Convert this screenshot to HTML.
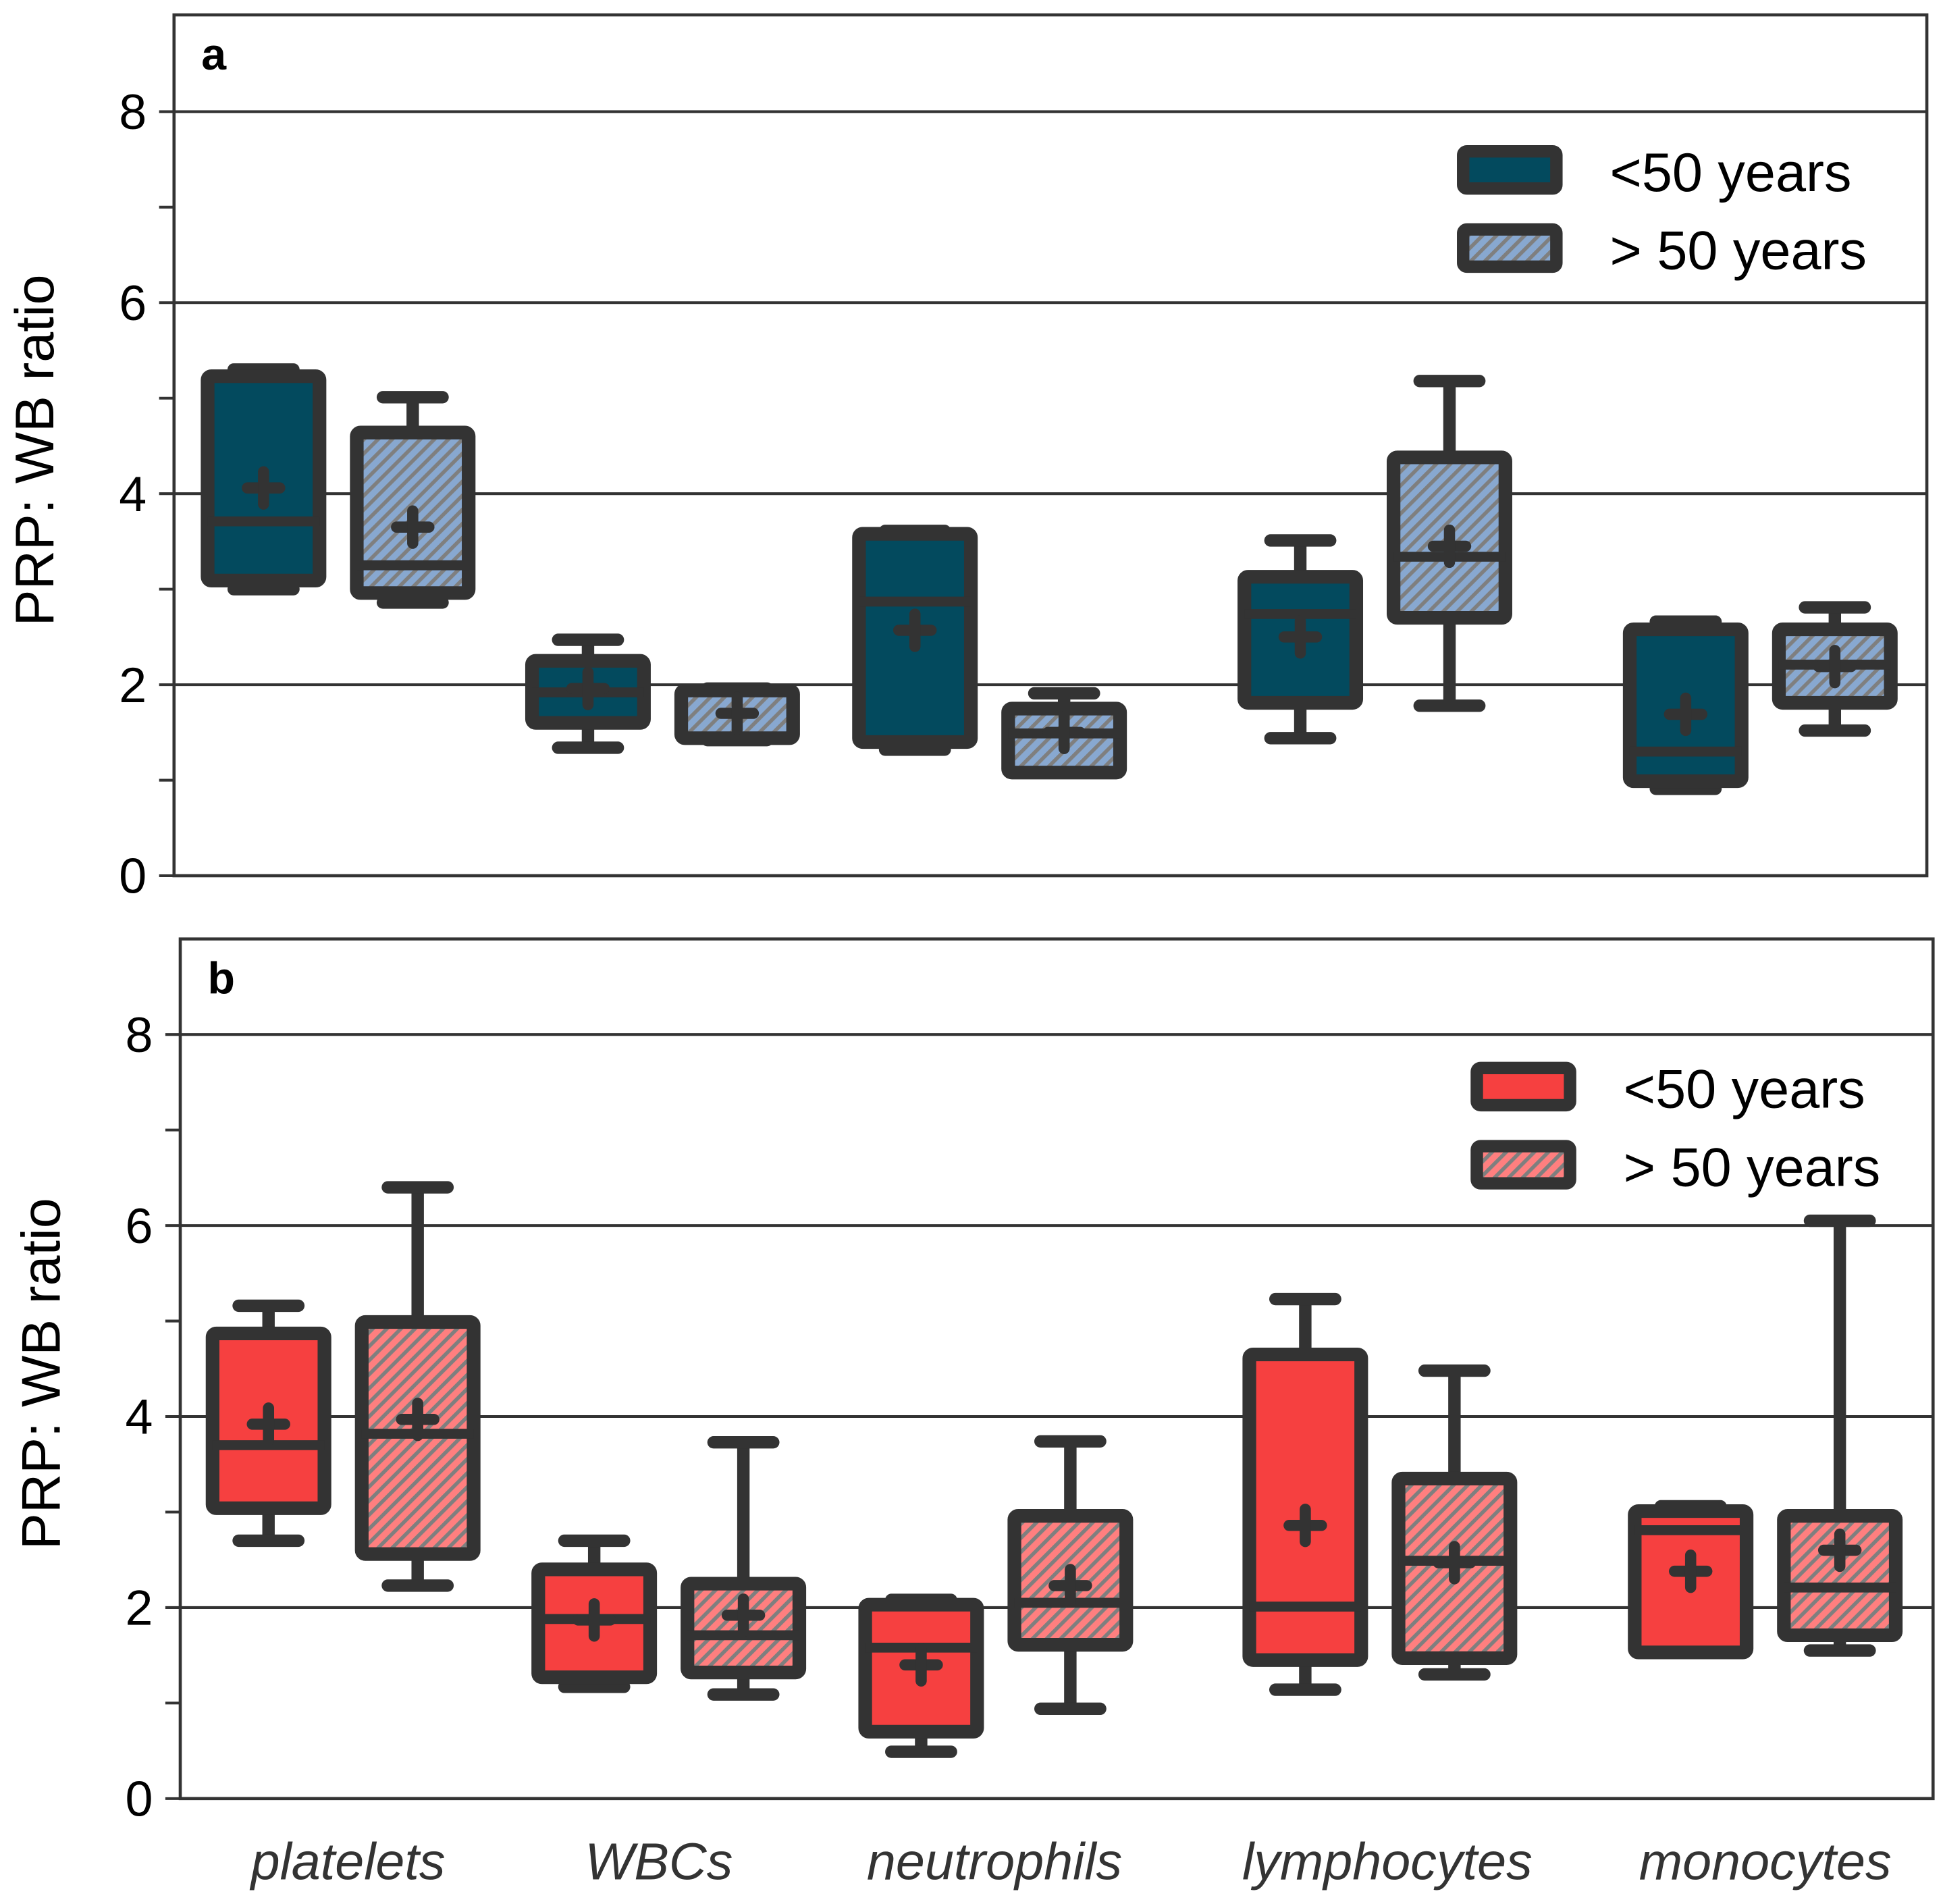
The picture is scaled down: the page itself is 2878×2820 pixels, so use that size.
<!DOCTYPE html>
<html><head><meta charset="utf-8"><style>html,body{margin:0;padding:0;background:#fff}svg{display:block}text{font-family:"Liberation Sans",Arial,sans-serif}</style></head>
<body>
<svg id="chart" width="2878" height="2820" viewBox="0 0 1563 1535" preserveAspectRatio="none" xmlns="http://www.w3.org/2000/svg">
<defs>
<pattern id="hatchBlue" patternUnits="userSpaceOnUse" width="8" height="8" patternTransform="rotate(45)">
<rect width="8" height="8" fill="#88a8d0"/><rect width="3" height="8" fill="#7f7f7f"/></pattern>
<pattern id="hatchPink" patternUnits="userSpaceOnUse" width="8" height="8" patternTransform="rotate(45)">
<rect width="8" height="8" fill="#ff7f7f"/><rect width="3" height="8" fill="#7f7f7f"/></pattern>
</defs>
<g id="root"></g>
</svg>
<script>
const categories = ["platelets","WBCs","neutrophils","lymphocytes","monocytes"];
// [whiskerHigh, q3, median, q1, whiskerLow, mean]
const aYoung = [[5.3,5.23,3.71,3.09,3.0,4.06],[2.47,2.25,1.92,1.6,1.34,1.96],[3.61,3.58,2.87,1.40,1.32,2.57],[3.51,3.13,2.74,1.81,1.44,2.5],[2.66,2.58,1.30,0.99,0.91,1.69]];
const aOld = [[5.01,4.64,3.25,2.96,2.86,3.65],[1.96,1.94,1.94,1.44,1.42,1.7],[1.91,1.75,1.49,1.08,1.08,1.5],[5.18,4.38,3.34,2.70,1.78,3.45],[2.81,2.58,2.21,1.81,1.52,2.19]];
const bYoung = [[5.16,4.87,3.70,3.04,2.70,3.92],[2.70,2.40,1.88,1.27,1.17,1.87],[2.08,2.03,1.58,0.70,0.49,1.40],[5.23,4.65,2.01,1.45,1.14,2.86],[3.06,3.01,2.81,1.53,1.53,2.38]];
const bOld = [[6.40,4.99,3.82,2.56,2.23,3.97],[3.73,2.25,1.71,1.32,1.09,1.92],[3.74,2.96,2.05,1.61,0.94,2.23],[4.48,3.35,2.49,1.47,1.30,2.47],[6.05,2.96,2.21,1.71,1.55,2.60]];
const yTicks = [0,2,4,6,8];
const yMinor = [1,3,5,7];

const NS="http://www.w3.org/2000/svg";
const root=document.getElementById('root');
function mk(tag,attrs,parent){const e=document.createElementNS(NS,tag);for(const k in attrs)e.setAttribute(k,attrs[k]);(parent||root).appendChild(e);return e;}
const C="#333";

function panel(p){
  const g=mk('g',{});
  
  
  const y=v=>p.y0-v*77;
  const grpCenter=i=>p.centers[i];
  yTicks.forEach(t=>{ if(t>0){const l=mk('line',{x1:p.left,x2:p.right,y1:y(t),y2:y(t),stroke:C,'stroke-width':2.2},g);
    
    }
    mk('line',{x1:p.left-12,x2:p.left,y1:y(t),y2:y(t),stroke:C,'stroke-width':2.2},g);
    const tx=mk('text',{x:p.left-22,y:y(t)+14,'text-anchor':'end','font-size':40,fill:'#000'},g);
    tx.textContent=t;
    
    
  });
  yMinor.forEach(t=>{mk('line',{x1:p.left-12,x2:p.left,y1:y(t),y2:y(t),stroke:C,'stroke-width':2.2},g);});
  const fr=mk('rect',{x:p.left,y:p.top,width:p.right-p.left,height:p.y0-p.top,fill:'none',stroke:C,'stroke-width':2.5},g);
  
  
  const lb=mk('text',{x:p.left+22,y:p.top+44,'font-size':36,'font-weight':'bold',fill:'#000'},g);
  lb.textContent=p.label;
  
  
  const yt=mk('text',{x:0,y:0,'font-size':44,fill:'#000','text-anchor':'middle',transform:`translate(${p.left-97},${(p.top+p.y0)/2+4}) rotate(-90)`},g);
  yt.textContent='PRP: WB ratio';
  
  
  [[p.young,p.solid,'young'],[p.old,p.hatch,'old']].forEach(([arr,fill,nm],si)=>{
    arr.forEach((d,i)=>{
      const cx=grpCenter(i)+(si===0?-p.off:p.off);
      const bg=mk('g',{},g);
      
      
      const hw=45, cap=24;
      mk('line',{x1:cx,x2:cx,y1:y(d[0]),y2:y(d[1]),stroke:C,'stroke-width':10},bg);
      mk('line',{x1:cx,x2:cx,y1:y(d[3]),y2:y(d[4]),stroke:C,'stroke-width':10},bg);
      mk('line',{x1:cx-cap,x2:cx+cap,y1:y(d[0]),y2:y(d[0]),stroke:C,'stroke-width':10,'stroke-linecap':'round'},bg);
      mk('line',{x1:cx-cap,x2:cx+cap,y1:y(d[4]),y2:y(d[4]),stroke:C,'stroke-width':10,'stroke-linecap':'round'},bg);
      mk('rect',{x:cx-hw,y:y(d[1]),width:2*hw,height:Math.max(y(d[3])-y(d[1]),1),fill:fill,stroke:C,'stroke-width':11,rx:3},bg);
      mk('line',{x1:cx-hw,x2:cx+hw,y1:y(d[2]),y2:y(d[2]),stroke:C,'stroke-width':8},bg);
      const my=y(d[5]);
      mk('line',{x1:cx-13,x2:cx+13,y1:my,y2:my,stroke:C,'stroke-width':9,'stroke-linecap':'round'},bg);
      mk('line',{x1:cx,x2:cx,y1:my-13,y2:my+13,stroke:C,'stroke-width':9,'stroke-linecap':'round'},bg);
    });
  });
  [[p.solid,'<50 years',p.legY],[p.hatch,'> 50 years',p.legY+63]].forEach(([f,t,ly],k)=>{
    const lg=mk('g',{},g);
    
    
    mk('rect',{x:p.legX,y:ly,width:75,height:30,fill:f,stroke:C,'stroke-width':10,rx:3},lg);
    const tt=mk('text',{x:p.legX+118,y:ly+32,'font-size':44,fill:'#000'},lg);
    tt.textContent=t;
  });
  return g;
}
panel({label:'a',left:140,right:1550,top:12,y0:706,centers:[272,533,796,1106,1416],off:60,young:aYoung,old:aOld,solid:'#034a5e',hatch:'url(#hatchBlue)',legX:1177,legY:122});
panel({label:'b',left:145,right:1555,top:757,y0:1450,centers:[276,538,801,1110,1420],off:60,young:bYoung,old:bOld,solid:'#f64040',hatch:'url(#hatchPink)',legX:1188,legY:861});
const xc=[280,530,800,1116,1420];
categories.forEach((c,i)=>{
  const t=mk('text',{x:xc[i],y:1515,'text-anchor':'middle','font-size':42,'font-style':'italic',fill:'#333'});
  t.textContent=c;
  
  
});
</script>
</body></html>
